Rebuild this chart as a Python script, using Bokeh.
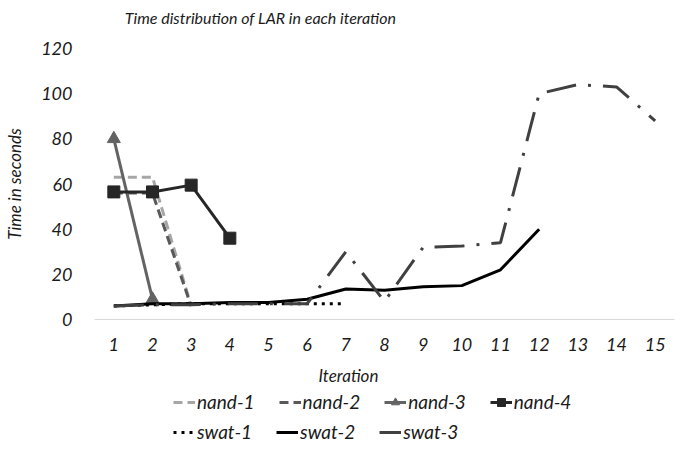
from bokeh.plotting import figure
from bokeh.layouts import column
from bokeh.models import Range1d, FixedTicker, Legend, LegendItem, Label, ColumnDataSource
from bokeh.embed import file_html
from bokeh.resources import INLINE

iterations = list(range(1, 16))
x_ticks = list(range(1, 16))
y_ticks = [0, 20, 40, 60, 80, 100, 120]

nand1 = [63, 63, 6]
nand2 = [56, 56, 6]
nand3 = [80, 9]
nand4 = [56.5, 56.5, 59.5, 36]
swat1 = [6, 6.5, 7, 7, 7, 7, 7]
swat2 = [6, 7, 7, 7.5, 7.5, 9, 13.5, 13, 14.5, 15, 22, 40]
swat3 = [6, 6.5, 6.5, 7, 7, 7, 30, 8, 32, 32.5, 34, 100, 104, 103, 88]

FONT = "Lato"
TXT = "#1a1a1a"

STYLES = {
    "nand-1": dict(line_color="#a6a6a6", line_width=3, line_dash="9 5"),
    "nand-2": dict(line_color="#595959", line_width=3, line_dash="9 5"),
    "nand-3": dict(line_color="#636363", line_width=3),
    "nand-4": dict(line_color="#262626", line_width=3),
    "swat-1": dict(line_color="black", line_width=3, line_dash="3 5"),
    "swat-2": dict(line_color="black", line_width=3),
    "swat-3": dict(line_color="#404040", line_width=3, line_dash="30 12 3 12"),
}
MARKERS = {
    "nand-3": dict(marker="triangle", size=13, color="#636363"),
    "nand-4": dict(marker="square", size=12, color="#262626"),
}

W = 688
FL, FR = 94, 674  # frame left/right edges in page pixels
TOP_H = 30


def strip(height):
    s = figure(width=W, height=height, output_backend="svg", toolbar_location=None,
               x_range=Range1d(FL, FR), y_range=Range1d(0, height), title=None,
               min_border_left=FL, min_border_right=W - FR, min_border_top=0, min_border_bottom=0)
    s.outline_line_color = None
    s.axis.visible = False
    s.grid.visible = False
    return s


# top strip: chart title
p0 = strip(TOP_H)
p0.add_layout(Label(x=260, y=TOP_H - 17, text="Time distribution of LAR in each iteration",
                    text_font=FONT, text_font_style="italic", text_font_size="16px",
                    text_color=TXT, text_align="center", text_baseline="middle"))

p = figure(width=W, height=332, output_backend="svg", toolbar_location=None, title=None,
           x_range=Range1d(0.5, 15.5), y_range=Range1d(0, 120),
           min_border_left=FL, min_border_right=W - FR, min_border_top=48 - TOP_H,
           min_border_bottom=43)
p.outline_line_color = None
p.xgrid.visible = False
p.ygrid.visible = False

p.xaxis.ticker = FixedTicker(ticks=x_ticks)
p.yaxis.ticker = FixedTicker(ticks=y_ticks)
for ax in (p.xaxis[0], p.yaxis[0]):
    ax.major_tick_line_color = None
    ax.minor_tick_line_color = None
    ax.major_label_text_font = FONT
    ax.major_label_text_font_style = "italic"
    ax.major_label_text_font_size = "18px"
    ax.major_label_text_color = TXT
p.xaxis.axis_line_color = "#d9d9d9"
p.xaxis.axis_line_width = 1
p.yaxis.axis_line_color = None
p.xaxis.major_label_standoff = 12
p.yaxis.major_label_standoff = 16
p.yaxis.axis_label = "Time in seconds"
p.yaxis.axis_label_text_font = FONT
p.yaxis.axis_label_text_font_style = "italic"
p.yaxis.axis_label_text_font_size = "17px"
p.yaxis.axis_label_text_color = TXT
p.yaxis.axis_label_standoff = 13

# lower strip: axis title and legend (coordinates in page pixels)
p2 = strip(88)

series = [("nand-1", nand1), ("nand-2", nand2), ("nand-3", nand3), ("nand-4", nand4),
          ("swat-1", swat1), ("swat-2", swat2), ("swat-3", swat3)]
items = {}
for name, vals in series:
    src = ColumnDataSource(dict(x=iterations[:len(vals)], y=vals))
    p.line("x", "y", source=src, **STYLES[name])
    # legend proxies (hidden) in the lower strip
    rs = [p2.line("x", "y", source=src, visible=False, **STYLES[name])]
    if name in MARKERS:
        p.scatter("x", "y", source=src, **MARKERS[name])
        rs.append(p2.scatter("x", "y", source=src, visible=False, **MARKERS[name]))
    items[name] = LegendItem(label=name, renderers=rs)

p2.add_layout(Label(x=348, y=75, text="Iteration", text_font=FONT, text_font_style="italic",
                    text_font_size="17px", text_color=TXT, text_align="center",
                    text_baseline="middle"))


def make_legend(names, loc):
    lg = Legend(items=[items[n] for n in names], location=loc, orientation="horizontal")
    lg.label_text_font = FONT
    lg.label_text_font_style = "italic"
    lg.label_text_font_size = "19px"
    lg.label_text_color = TXT
    lg.background_fill_alpha = 0
    lg.border_line_color = None
    lg.glyph_width = 22
    lg.glyph_height = 20
    lg.label_standoff = 2
    lg.spacing = 24
    lg.padding = 2
    lg.margin = 0
    lg.label_height = 20
    return lg


p2.add_layout(make_legend(["nand-1", "nand-2", "nand-3", "nand-4"], (79, 37)))
p2.add_layout(make_legend(["swat-1", "swat-2", "swat-3"], (79, 7)))

layout = column(p0, p, p2, spacing=0)
open("out.html", "w").write(file_html(layout, INLINE))
